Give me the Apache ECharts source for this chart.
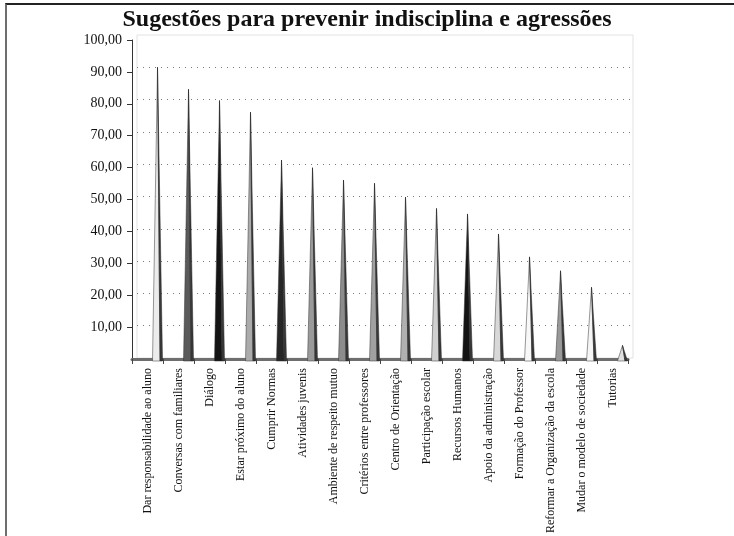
<!DOCTYPE html>
<html>
<head>
<meta charset="utf-8">
<script src="https://cdn.jsdelivr.net/npm/echarts@6/dist/echarts.min.js"></script>
<style>
  html, body { margin: 0; padding: 0; background: #fff; }
  #chart { position: absolute; left: 0; top: 0; width: 734px; height: 536px; }
  #frame { position: absolute; left: 5px; top: 3px; width: 729px; height: 533px;
           border-top: 2px solid #222; border-left: 2px solid #6e6e6e; box-sizing: border-box; pointer-events: none; }
</style>
</head>
<body>
<div id="chart"></div>
<div id="frame"></div>
<script>
const titleText = 'Sugestões para prevenir indisciplina e agressões';
const categories = [
  'Dar responsabilidade ao aluno',
  'Conversas com familiares',
  'Diálogo',
  'Estar próximo do aluno',
  'Cumprir Normas',
  'Atividades juvenis',
  'Ambiente de respeito mutuo',
  'Critérios entre professores',
  'Centro de Orientação',
  'Participação escolar',
  'Recursos Humanos',
  'Apoio da administração',
  'Formação do Professor',
  'Reformar a Organização da escola',
  'Mudar o modelo de sociedade',
  'Tutorias'
];
const values = [90.0, 83.2, 79.7, 76.1, 61.3, 58.9, 55.1, 54.1, 49.8, 46.3, 44.6, 38.4, 31.3, 27.0, 21.9, 3.9];
const yMin = 0, yMax = 100, yStep = 10;

// styling (face shades of each spike)
const faceColors = ['#ececec', '#5a5a5a', '#141414', '#ababab', '#262626', '#9a9a9a', '#8c8c8c', '#a0a0a0',
                    '#b0b0b0', '#d0d0d0', '#141414', '#d8d8d8', '#f8f8f8', '#999999', '#f5f5f5', '#e0e0e0'];

const serif = '"Liberation Serif", "Times New Roman", serif';
const chart = echarts.init(document.getElementById('chart'));

function renderSpike(params, api) {
  const i = api.value(0), v = api.value(1);
  const top = api.coord([i, v]);
  const base = api.coord([i, 0]);
  const depth = 5;           // 3D depth shift
  const ax = top[0] + depth, ay = top[1];
  const by = base[1] + 3;
  const color = faceColors[params.dataIndex % faceColors.length];
  return {
    type: 'group',
    children: [
      { type: 'polygon', shape: { points: [[ax, ay], [ax - 5, by], [ax + 2.5, by]] },
        style: { fill: color, stroke: '#333', lineWidth: 0.5 } },
      { type: 'polygon', shape: { points: [[ax, ay], [ax + 2.5, by], [ax + 5, by]] },
        style: { fill: '#3a3a3a', stroke: '#222', lineWidth: 0.5 } }
    ]
  };
}

chart.setOption({
  animation: false,
  backgroundColor: '#fff',
  title: {
    text: titleText, left: 'center', top: 3,
    textStyle: { fontFamily: serif, fontSize: 24, fontWeight: 'bold', color: '#111' }
  },
  grid: [
    { left: 132, right: 106, top: 40, bottom: 174 },                       // front plane
    { left: 137, right: 101, top: 35, bottom: 178, show: true,              // back wall
      borderColor: '#e2e2e2', borderWidth: 1, backgroundColor: 'transparent' }
  ],
  xAxis: [
    { type: 'category', gridIndex: 0, data: categories, boundaryGap: true,
      axisLine: { lineStyle: { color: '#6e6e6e', width: 3 } },
      axisTick: { show: true, interval: 0, length: 5, lineStyle: { color: '#444' } },
      axisLabel: { interval: 0, rotate: 90, margin: 9, color: '#111', fontFamily: serif, fontSize: 12 } },
    { type: 'category', gridIndex: 1, data: categories, boundaryGap: true, show: false }
  ],
  yAxis: [
    { type: 'value', gridIndex: 0, min: yMin, max: yMax, interval: yStep,
      axisLine: { show: true, lineStyle: { color: '#333' } },
      axisTick: { show: true, length: 5, lineStyle: { color: '#333' } },
      splitLine: { show: false },
      axisLabel: { showMinLabel: false, margin: 10, color: '#111', fontFamily: serif, fontSize: 14,
                   formatter: v => v.toFixed(2).replace('.', ',') } },
    { type: 'value', gridIndex: 1, min: yMin, max: yMax, interval: yStep,
      axisLine: { show: false }, axisTick: { show: false }, axisLabel: { show: false },
      splitLine: { show: true, showMinLine: false, showMaxLine: false,
                   lineStyle: { color: '#7a7a7a', type: [1, 5], width: 1 } } }
  ],
  series: [{
    type: 'custom', xAxisIndex: 1, yAxisIndex: 1, clip: false, z: 5,
    renderItem: renderSpike,
    data: values.map((v, i) => [i, v])
  }]
});
</script>
</body>
</html>
